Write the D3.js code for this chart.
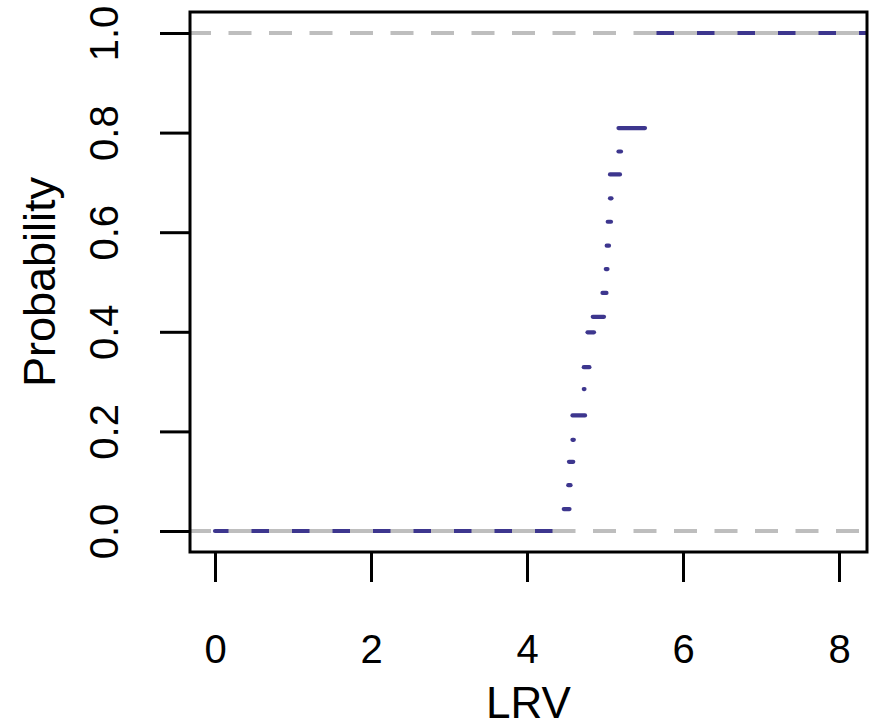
<!DOCTYPE html>
<html>
<head>
<meta charset="utf-8">
<script src="https://cdn.jsdelivr.net/npm/d3@7"></script>
<style>
  html, body { margin: 0; padding: 0; background: #fff; overflow: hidden; }
  svg { display: block; }
  text { font-family: "Liberation Sans", Arial, Helvetica, sans-serif; fill: #000; }
</style>
</head>
<body>
<script>
// Empirical CDF of LRV: each step is a horizontal segment [lrvFrom, lrvTo] at height prob.
const lrvFrom = [0.00, 4.471, 4.529, 4.538, 4.583, 4.583, 4.728, 4.728, 4.776, 4.843, 4.968,
                 5.010, 5.022, 5.035, 5.064, 5.064, 5.173, 5.173, 5.513];
const lrvTo   = [4.47, 4.545, 4.558, 4.593, 4.600, 4.744, 4.737, 4.800, 4.859, 4.987, 5.019,
                 5.032, 5.051, 5.077, 5.083, 5.192, 5.205, 5.513, 8.40];
const prob    = [0.000, 0.044, 0.092, 0.139, 0.183, 0.232, 0.285, 0.329, 0.399, 0.430, 0.478,
                 0.526, 0.573, 0.621, 0.668, 0.716, 0.762, 0.809, 1.000];

const xTicks = [0, 2, 4, 6, 8];
const yTicks = [0, 0.2, 0.4, 0.6, 0.8, 1.0];
const refLines = [0, 1];

const W = 873, H = 728;
const box = { left: 190, right: 867, top: 12, bottom: 552 };

const x = d3.scaleLinear().domain([0, 8]).range([215, 839]);
const y = d3.scaleLinear().domain([0, 1]).range([531, 33]);

const svg = d3.select("body").append("svg").attr("width", W).attr("height", H);

svg.append("clipPath").attr("id", "plotArea")
  .append("rect")
  .attr("x", box.left).attr("y", box.top)
  .attr("width", box.right - box.left).attr("height", box.bottom - box.top);

const plot = svg.append("g").attr("clip-path", "url(#plotArea)");

// step segments
const steps = prob.map((p, i) => ({ x0: lrvFrom[i], x1: lrvTo[i], p }));
plot.selectAll("line.step").data(steps).join("line")
  .attr("class", "step")
  .attr("x1", d => x(d.x0)).attr("x2", d => x(d.x1))
  .attr("y1", d => y(d.p)).attr("y2", d => y(d.p))
  .attr("stroke", "#3D368E").attr("stroke-width", 4.2).attr("stroke-linecap", "round");

// dashed reference lines at 0 and 1
plot.selectAll("line.ref").data(refLines).join("line")
  .attr("class", "ref")
  .attr("x1", box.left - 2).attr("x2", box.right)
  .attr("y1", d => y(d)).attr("y2", d => y(d))
  .attr("stroke", "#BEBEBE").attr("stroke-width", 4)
  .attr("stroke-dasharray", "23,17.5");

// frame
svg.append("rect")
  .attr("x", box.left).attr("y", box.top)
  .attr("width", box.right - box.left).attr("height", box.bottom - box.top)
  .attr("fill", "none").attr("stroke", "#000").attr("stroke-width", 3);

// x axis
const xAxis = d3.axisBottom(x).tickValues(xTicks).tickSize(30).tickPadding(0)
  .tickFormat(d3.format("d"));
const gx = svg.append("g").attr("transform", `translate(0,${box.bottom})`).call(xAxis);
gx.select(".domain").remove();
gx.selectAll(".tick line").attr("stroke", "#000").attr("stroke-width", 3);
gx.selectAll(".tick text")
  .attr("y", 111).attr("dy", null)
  .style("font-size", "40px").style("font-family", "Liberation Sans, Arial, sans-serif");

// y axis
const yAxis = d3.axisLeft(y).tickValues(yTicks).tickSize(30).tickPadding(0)
  .tickFormat(d3.format(".1f"));
const gy = svg.append("g").attr("transform", `translate(${box.left},0)`).call(yAxis);
gy.select(".domain").remove();
gy.selectAll(".tick line").attr("stroke", "#000").attr("stroke-width", 3);
gy.selectAll(".tick text")
  .attr("x", null).attr("dy", null)
  .attr("text-anchor", "middle")
  .attr("transform", `translate(${118 - box.left},0) rotate(-90)`)
  .style("font-size", "40px").style("font-family", "Liberation Sans, Arial, sans-serif");

// axis titles
svg.append("text")
  .attr("x", (box.left + box.right) / 2).attr("y", 718)
  .attr("text-anchor", "middle").style("font-size", "44px")
  .text("LRV");

svg.append("text")
  .attr("transform", `translate(55,${(box.top + box.bottom) / 2}) rotate(-90)`)
  .attr("text-anchor", "middle").style("font-size", "45px")
  .text("Probability");
</script>
</body>
</html>
